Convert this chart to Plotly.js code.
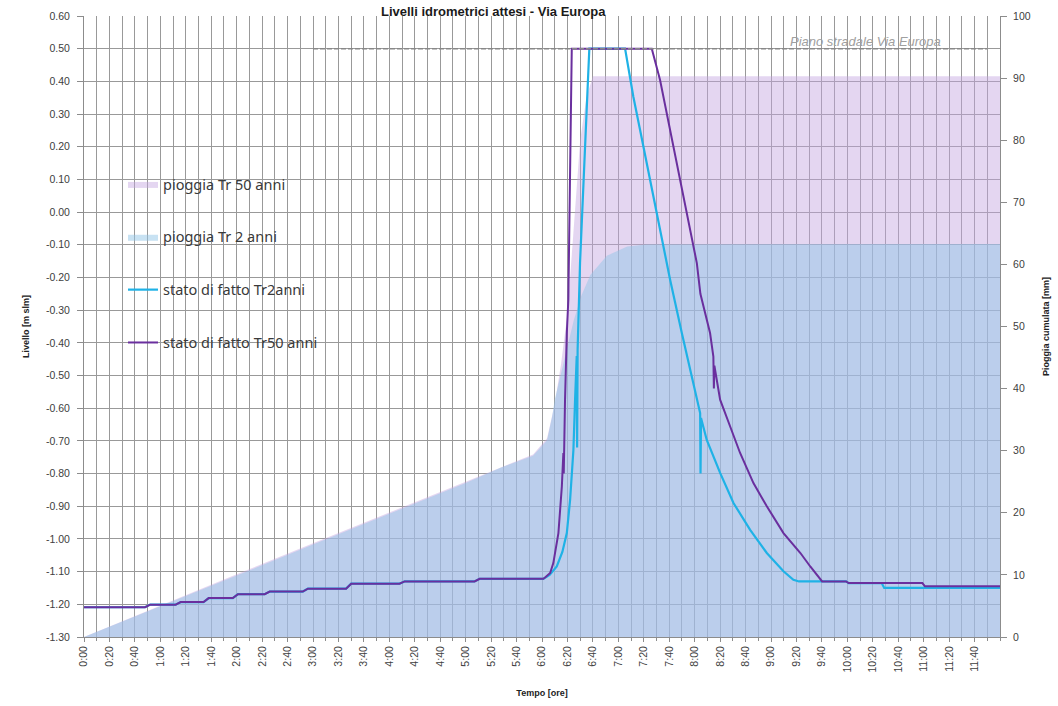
<!DOCTYPE html>
<html>
<head>
<meta charset="utf-8">
<script src="https://cdn.plot.ly/plotly-3.0.1.min.js"></script>
<style>
  html, body { margin: 0; padding: 0; background: #ffffff; }
  #chart { width: 1058px; height: 706px; }
</style>
</head>
<body>
<div id="chart"></div>
<script>
// Time axis (minutes from 0:00) and its labels
const tickTimes = [0, 20, 40, 60, 80, 100, 120, 140, 160, 180, 200, 220, 240, 260, 280, 300, 320, 340,
                   360, 380, 400, 420, 440, 460, 480, 500, 520, 540, 560, 580, 600, 620, 640, 660, 680, 700];
const tickLabels = ['0:00', '0:20', '0:40', '1:00', '1:20', '1:40', '2:00', '2:20', '2:40', '3:00', '3:20', '3:40',
                    '4:00', '4:20', '4:40', '5:00', '5:20', '5:40', '6:00', '6:20', '6:40', '7:00', '7:20', '7:40',
                    '8:00', '8:20', '8:40', '9:00', '9:20', '9:40', '10:00', '10:20', '10:40', '11:00', '11:20', '11:40'];

// Water level axis ticks [m slm]
const levelTicks = [0.6, 0.5, 0.4, 0.3, 0.2, 0.1, 0, -0.1, -0.2, -0.3, -0.4, -0.5, -0.6, -0.7, -0.8, -0.9, -1.0, -1.1, -1.2, -1.3];
const levelTickText = ['0.60', '0.50', '0.40', '0.30', '0.20', '0.10', '0.00', '-0.10', '-0.20', '-0.30', '-0.40', '-0.50',
                       '-0.60', '-0.70', '-0.80', '-0.90', '-1.00', '-1.10', '-1.20', '-1.30'];

// Cumulative rainfall, return period 50 years [mm]
const rainTr50Time = [0, 60, 120, 180, 240, 300, 353, 364, 370, 375, 380, 385, 390, 395, 400, 720];
const rainTr50 = [0, 5.1, 10.1, 15.1, 20.0, 25.0, 29.4, 32.0, 37.5, 44, 52, 66, 80, 87, 90.3, 90.3];

// Cumulative rainfall, return period 2 years [mm]
const rainTr2Time = [0, 60, 120, 180, 240, 300, 327, 353, 364, 368, 370, 378, 385, 391, 398, 411, 427, 442, 720];
const rainTr2 = [0, 4.9, 9.9, 14.9, 19.8, 24.8, 27.2, 29.2, 31.7, 35.5, 38.2, 45, 51, 55, 58.3, 61.4, 62.9, 63.2, 63.3];

// Water level, current state, Tr 2 years [m slm]
const levelTr2Time = [0, 48, 52, 72, 76, 94, 98, 117, 121, 142, 146, 172, 176, 206, 210, 248, 252, 307, 311,
                      361, 366, 371.6, 376, 379.5, 382.1, 384.7, 386, 387.3, 387.6, 388, 389.9, 392.5, 395.2, 397.2,
                      425.3, 431.8, 437.1, 444.9, 452.8, 460.7, 469.9, 479, 484.3, 484.6, 485, 489.5, 500, 510.5,
                      523.6, 536.7, 549.8, 557.6, 562, 599, 601, 627, 629, 720];
const levelTr2 = [-1.209, -1.209, -1.201, -1.201, -1.193, -1.193, -1.181, -1.181, -1.169, -1.169, -1.161, -1.161,
                  -1.152, -1.152, -1.137, -1.137, -1.130, -1.130, -1.122,
                  -1.122, -1.11, -1.084, -1.04, -0.982, -0.88, -0.727, -0.574, -0.44, -0.72, -0.42, -0.155, 0.098, 0.303, 0.50,
                  0.50, 0.353, 0.251, 0.098, -0.054, -0.207, -0.37, -0.523, -0.615, -0.80, -0.63, -0.697, -0.798, -0.89,
                  -0.972, -1.043, -1.099, -1.125, -1.13, -1.13, -1.135, -1.135, -1.15, -1.15];

// Water level, current state, Tr 50 years [m slm]
const levelTr50Time = [0, 48, 52, 72, 76, 94, 98, 117, 121, 142, 146, 172, 176, 206, 210, 248, 252, 307, 311,
                       361, 362.4, 366.4, 368.9, 372.9, 375.6, 376.8, 377.1, 377.4, 378.1, 379.5, 380.7, 383.4,
                       446.3, 452.8, 458.1, 465.9, 473.8, 481.7, 484.5, 492.1, 494.7, 495.1, 495.5, 500, 507.9, 515.7,
                       526.2, 536.7, 549.8, 563.1, 571, 580.2, 599, 601, 659, 661, 720];
const levelTr50 = [-1.209, -1.209, -1.201, -1.201, -1.193, -1.193, -1.181, -1.181, -1.169, -1.169, -1.161, -1.161,
                   -1.152, -1.152, -1.137, -1.137, -1.130, -1.130, -1.122,
                   -1.122, -1.118, -1.104, -1.074, -0.982, -0.839, -0.737, -0.80, -0.70, -0.574, -0.37, -0.268, 0.50,
                   0.50, 0.404, 0.302, 0.15, -0.003, -0.156, -0.25, -0.37, -0.442, -0.54, -0.47, -0.574, -0.656, -0.737,
                   -0.829, -0.90, -0.982, -1.043, -1.085, -1.13, -1.13, -1.135, -1.135, -1.145, -1.145];

// Road surface level of Via Europa
const roadTime = [180, 710];
const roadLevel = [0.50, 0.50];

const gridColor = '#999999';
const tickFont = { family: 'Liberation Sans, Arial, sans-serif', size: 10.5, color: '#404040' };
const axisTitleFont = { family: 'Liberation Sans, Arial, sans-serif', size: 9, color: '#222', weight: 'bold' };

const traces = [
  {
    name: 'pioggia Tr 50 anni', legendgroup: 'a',
    x: rainTr50Time, y: rainTr50, yaxis: 'y',
    type: 'scatter', mode: 'lines', line: { width: 0, color: 'rgba(0,0,0,0)' },
    fill: 'tozeroy', fillcolor: 'rgba(196,164,224,0.45)', hoverinfo: 'skip'
  },
  {
    name: 'pioggia Tr 2 anni', legendgroup: 'b',
    x: rainTr2Time, y: rainTr2, yaxis: 'y',
    type: 'scatter', mode: 'lines', line: { width: 0, color: 'rgba(0,0,0,0)' },
    fill: 'tozeroy', fillcolor: 'rgba(146,198,232,0.5)', hoverinfo: 'skip'
  },
  {
    name: 'stato di fatto Tr2anni', legendgroup: 'c',
    x: levelTr2Time, y: levelTr2, yaxis: 'y2',
    type: 'scatter', mode: 'lines', line: { width: 2.2, color: '#1fb2e6' }
  },
  {
    name: 'stato di fatto Tr50 anni', legendgroup: 'd',
    x: levelTr50Time, y: levelTr50, yaxis: 'y2',
    type: 'scatter', mode: 'lines', line: { width: 2, color: '#6a2f9e' }
  },
  {
    name: 'Piano stradale Via Europa', showlegend: false,
    x: roadTime, y: roadLevel, yaxis: 'y2',
    type: 'scatter', mode: 'lines', line: { width: 1.5, color: '#888888', dash: '5px,2px' }
  }
];

const px = v => (v - 84) / 916;     // horizontal pixel -> paper
const py = v => (637 - v) / 621;    // vertical pixel -> paper

const layout = {
  width: 1058, height: 706,
  margin: { l: 84, r: 58, t: 16, b: 69, pad: 0 },
  paper_bgcolor: '#ffffff', plot_bgcolor: '#ffffff',
  showlegend: true,
  legend: {
    x: px(123), y: py(168), xanchor: 'left', yanchor: 'top',
    bgcolor: 'rgba(0,0,0,0)', borderwidth: 0,
    tracegroupgap: 31,
    font: { family: 'Noto Sans, sans-serif', size: 14.5, color: '#3a3a3a' }
  },
  xaxis: {
    range: [0, 720],
    tickmode: 'array', tickvals: tickTimes, ticktext: tickLabels,
    tickangle: -90, tickfont: tickFont,
    ticks: 'outside', ticklen: 4, tickcolor: '#8c8c8c',
    showgrid: true, gridcolor: gridColor, gridwidth: 1,
    minor: { tickmode: 'linear', tick0: 0, dtick: 10, showgrid: true, gridcolor: gridColor, gridwidth: 1, ticks: 'outside', ticklen: 3, tickcolor: '#8c8c8c' },
    showline: true, linecolor: '#8c8c8c', linewidth: 1,
    zeroline: false,
    title: { text: 'Tempo [ore]', standoff: 18, font: axisTitleFont }
  },
  yaxis: {
    range: [0, 100], side: 'right',
    tickmode: 'linear', tick0: 0, dtick: 10,
    tickfont: tickFont, ticklabelstandoff: 4,
    ticks: 'outside', ticklen: 6, tickcolor: '#8c8c8c',
    showgrid: false, zeroline: false,
    showline: true, linecolor: '#8c8c8c', linewidth: 1,
    title: { text: 'Pioggia cumulata [mm]', standoff: 12, font: axisTitleFont }
  },
  yaxis2: {
    range: [-1.3, 0.6], overlaying: 'y', side: 'left',
    tickmode: 'array', tickvals: levelTicks, ticktext: levelTickText,
    tickfont: tickFont, ticklabelstandoff: 5,
    ticks: 'outside', ticklen: 6, tickcolor: '#8c8c8c',
    showgrid: true, gridcolor: gridColor, gridwidth: 1,
    zeroline: false,
    showline: true, linecolor: '#8c8c8c', linewidth: 1,
    title: { text: 'Livello [m slm]', standoff: 14, font: axisTitleFont }
  },
  shapes: [
    {
      type: 'rect', xref: 'paper', yref: 'paper', layer: 'between',
      x0: px(95), x1: px(400), y0: py(370), y1: py(143),
      fillcolor: '#ffffff', line: { width: 0 }
    }
  ],
  annotations: [
    {
      text: '<b>Livelli idrometrici attesi - Via Europa</b>',
      xref: 'paper', yref: 'paper', x: px(493), y: py(12), xanchor: 'center', yanchor: 'middle',
      showarrow: false, font: { family: 'Liberation Sans, Arial, sans-serif', size: 13, color: '#1a1a1a' }
    },
    {
      text: '<i>Piano stradale Via Europa</i>',
      xref: 'paper', yref: 'paper', x: px(865), y: py(42), xanchor: 'center', yanchor: 'middle',
      showarrow: false, font: { family: 'Liberation Sans, Arial, sans-serif', size: 13, color: '#a0a0a0' }
    }
  ]
};

Plotly.newPlot('chart', traces, layout, { displayModeBar: false, staticPlot: true });
</script>
</body>
</html>
